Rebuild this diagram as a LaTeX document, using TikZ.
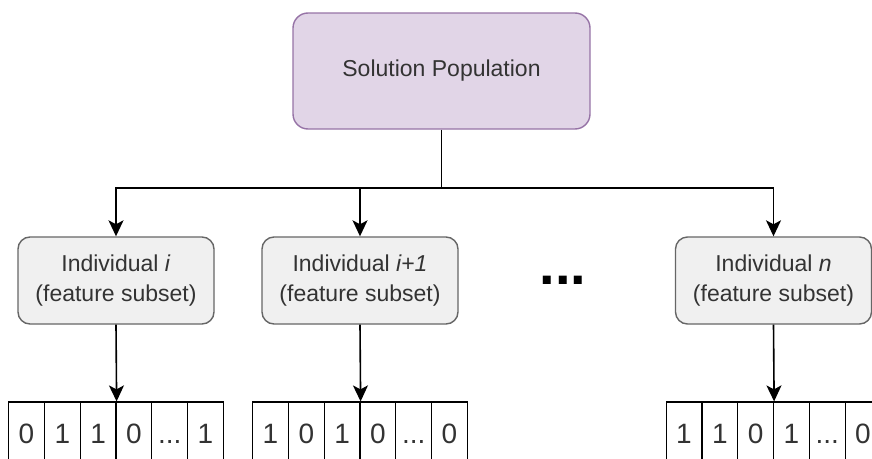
\documentclass[tikz,border=0pt]{standalone}
\usepackage{fontspec}
\setmainfont{Liberation Sans}
\usetikzlibrary{arrows.meta}
\definecolor{popfill}{HTML}{E1D5E7}
\definecolor{popdraw}{HTML}{9673A6}
\definecolor{indfill}{HTML}{F0F0F0}
\definecolor{inddraw}{HTML}{666666}
\definecolor{txt}{HTML}{333333}
\newcommand\celldots{...}
\tikzset{
  popbox/.style={draw=popdraw, fill=popfill, line width=1.4pt, rounded corners=15pt,
    minimum width=297pt, minimum height=116pt, inner sep=0pt, text=txt,
    font=\fontsize{23}{28}\selectfont},
  indbox/.style={draw=inddraw, fill=indfill, line width=1.4pt, rounded corners=12pt,
    minimum width=196pt, minimum height=87pt, inner sep=0pt, text=txt, align=center,
    font=\fontsize{23}{30}\selectfont},
  cell/.style={draw=black, line width=1.2pt, minimum width=35.8pt, minimum height=62pt,
    inner sep=0pt, text height=20pt, text depth=0pt, text=txt, font=\fontsize{28}{30}\selectfont},
  conn/.style={line width=1.6pt, draw=black},
  arr/.style={conn, -{Stealth[length=16pt, width=15pt, inset=4pt]}},
  dotsnode/.style={inner sep=0pt, font=\fontsize{56}{56}\selectfont\bfseries}
}
\begin{document}
\begin{tikzpicture}[x=1pt, y=-1pt]
\useasboundingbox (0,0) rectangle (872,458);
\clip (0,0) rectangle (872,458);
\node[popbox] (pop) at (441.5,71) {Solution Population};
\node[indbox] (ind1) at (116,280.5) {Individual \textit{i}\\(feature subset)};
\node[indbox] (ind2) at (360,280.5) {Individual \textit{i+1}\\(feature subset)};
\node[indbox] (ind3) at (773.5,280.5) {Individual \textit{n}\\(feature subset)};
\node[dotsnode] (dots) at (563,280) {...};
\coordinate (j) at (441.5,188);
\draw[conn] (pop.south) -- (j);
\draw[arr] (j) -| (ind1.north);
\draw[arr] (j) -| (ind2.north);
\draw[arr] (j) -| (ind3.north);
% arrays
\foreach \arrname/\cx/\bits in {aa/116/{0,1,1,0,\celldots,1}, ab/360/{1,0,1,0,\celldots,0}, ac/773.5/{1,1,0,1,\celldots,0}}{
  \foreach \b [count=\k] in \bits {
    \node[cell] (\arrname\k) at ({\cx-3*35.8+(\k-0.5)*35.8},433) {\b};
  }
}
\draw[arr] (ind1.south) -- (aa3.north east);
\draw[arr] (ind2.south) -- (ab3.north east);
\draw[arr] (ind3.south) -- (ac3.north east);
\end{tikzpicture}
\end{document}
